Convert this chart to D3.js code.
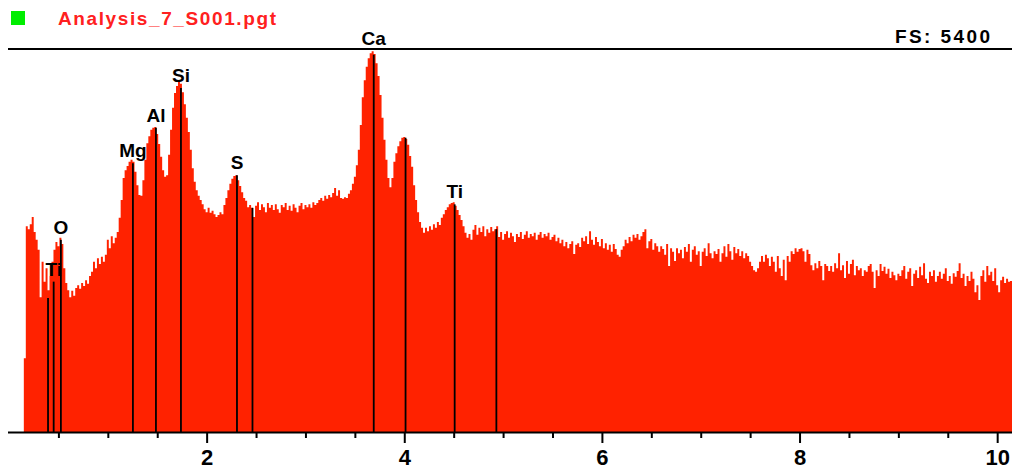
<!DOCTYPE html>
<html>
<head>
<meta charset="utf-8">
<script src="https://cdn.jsdelivr.net/npm/d3@7"></script>
<style>
  body { margin: 0; background: #fff; }
  svg { display: block; }
  text { font-family: "Liberation Sans", Arial, sans-serif; font-weight: bold; }
</style>
</head>
<body>
<div id="chart"></div>
<script>
/*global d3:true */

var spectrumName = "Analysis_7_S001.pgt";
var fullScale = 5400;

// channel calibration (keV)
var chStart = 0.16;
var chWidth = 0.02;

// counts per channel
var counts = [
  1040, 2900, 2860, 2930, 3030, 2820, 2710, 2570, 1900, 2400,
  2120, 2310, 2000, 2200, 2400, 2570, 2680, 2620, 2740, 2650,
  2310, 2100, 2000, 1900, 1990, 1920, 2030, 2070, 2020, 2100,
  2060, 2140, 2090, 2200, 2260, 2400, 2310, 2450, 2370, 2470,
  2400, 2500, 2710, 2590, 2760, 2660, 2740, 2820, 3020, 3270,
  3580, 3690, 3750, 3810, 3840, 3810, 3670, 3480, 3340, 3330,
  3550, 3840, 4070, 4170, 4260, 4290, 4300, 4200, 4060, 3880,
  3690, 3600, 3620, 3910, 4260, 4570, 4780, 4880, 4940, 4910,
  4790, 4620, 4430, 4230, 3980, 3720, 3530, 3410, 3330, 3270,
  3210, 3140, 3100, 3160, 3090, 3120, 3070, 3030, 3060, 3100,
  3070, 3200, 3300, 3410, 3500, 3570, 3610, 3620, 3550, 3470,
  3380, 3300, 3260, 3170, 3200, 3160, 3030, 3190, 3240, 3130,
  3210, 3170, 3100, 3230, 3160, 3200, 3130, 3210, 3140, 3090,
  3200, 3170, 3230, 3130, 3190, 3120, 3210, 3160, 3100, 3190,
  3230, 3140, 3200, 3170, 3210, 3160, 3240, 3200, 3230, 3270,
  3300, 3260, 3330, 3290, 3340, 3310, 3370, 3440, 3330, 3410,
  3300, 3290, 3310, 3300, 3360, 3410, 3500, 3600, 3760, 3980,
  4330, 4720, 4960, 5150, 5270, 5340, 5370, 5330, 5200, 5020,
  4750, 4430, 4120, 3840, 3580, 3450, 3580, 3810, 3930, 4030,
  4100, 4150, 4160, 4130, 4050, 3890, 3740, 3480, 3270, 3100,
  2960, 2880, 2810, 2880, 2830, 2900, 2850, 2930, 2880, 2960,
  2920, 3020, 3070, 3130, 3170, 3210, 3230, 3240, 3190, 3130,
  3060, 2990, 2900, 2810, 2740, 2790, 2710, 2850, 2920, 2780,
  2880, 2820, 2900, 2760, 2860, 2810, 2890, 2830, 2860, 2900,
  2750, 2820, 2710, 2790, 2830, 2740, 2810, 2760, 2680, 2790,
  2750, 2820, 2720, 2780, 2830, 2740, 2790, 2760, 2810, 2710,
  2780, 2820, 2740, 2790, 2760, 2810, 2710, 2750, 2780, 2690,
  2740, 2660, 2710, 2620, 2680, 2590, 2650, 2690, 2510, 2640,
  2660, 2610, 2740, 2690, 2760, 2650, 2830, 2710, 2640, 2750,
  2680, 2620, 2720, 2590, 2660, 2570, 2640, 2540, 2650, 2580,
  2500, 2470, 2570, 2620, 2710, 2660, 2750, 2690, 2780, 2740,
  2790, 2710, 2760, 2820, 2860, 2590, 2690, 2720, 2570, 2660,
  2620, 2540, 2620, 2580, 2500, 2650, 2340, 2590, 2540, 2410,
  2590, 2520, 2570, 2450, 2610, 2540, 2650, 2400, 2570, 2620,
  2500, 2550, 2340, 2540, 2590, 2480, 2660, 2520, 2450, 2550,
  2510, 2580, 2400, 2520, 2620, 2470, 2650, 2550, 2430, 2610,
  2520, 2580, 2480, 2550, 2450, 2520, 2480, 2400, 2340, 2280,
  2260, 2310, 2400, 2480, 2400, 2500, 2450, 2340, 2470, 2400,
  2260, 2480, 2310, 2200, 2430, 2140, 2480, 2400, 2550, 2510,
  2590, 2540, 2580, 2590, 2550, 2400, 2570, 2510, 2350, 2280,
  2380, 2310, 2410, 2340, 2140, 2370, 2340, 2270, 2340, 2260,
  2380, 2310, 2520, 2280, 2350, 2170, 2410, 2230, 2370, 2430,
  2210, 2340, 2280, 2310, 2200, 2280, 2260, 2340, 2370, 2260,
  2030, 2280, 2200, 2370, 2270, 2330, 2230, 2300, 2170, 2260,
  2210, 2140, 2230, 2200, 2280, 2340, 2160, 2260, 2310, 2060,
  2230, 2280, 2170, 2330, 2210, 2380, 2160, 2100, 2260, 2200,
  2280, 2120, 2200, 2260, 2160, 2230, 2310, 2130, 2200, 2090,
  2240, 2190, 2270, 2380, 2170, 2230, 2060, 2200, 2130, 2260,
  2160, 1970, 2070, 1860, 2200, 2280, 2120, 2340, 2210, 2260,
  2130, 2310, 2070, 1970, 2140, 2190, 2100, 2160, 2120, 2130
];

// element marker lines
var lineEnergies = [0.395, 0.452, 0.525, 1.254, 1.487, 1.740, 2.307, 2.464, 3.691, 4.013, 4.510, 4.932];
var lineHeights  = [1890, 2120, 2710, 3790, 4290, 4850, 3620, 3160, 5320, 4150, 3210, 2860];
var lineLabels   = ["", "Ti", "O", "Mg", "Al", "Si", "S", "", "Ca", "", "Ti", ""];

// axis ticks (keV)
var majorTicks = [2, 4, 6, 8, 10];
var minorTicks = [0.5, 1, 1.5, 2.5, 3, 3.5, 4.5, 5, 5.5, 6.5, 7, 7.5, 8.5, 9, 9.5];

var width = 1012, height = 469;
var svg = d3.select("#chart").append("svg").attr("width", width).attr("height", height);

var x = d3.scaleLinear().domain([0, 10.15]).range([9, 1012]);
var y = d3.scaleLinear().domain([0, fullScale]).range([432, 49]);

// header
svg.append("rect").attr("x", 11).attr("y", 11).attr("width", 14).attr("height", 14).attr("fill", "#00ee00");
svg.append("text").attr("x", 58).attr("y", 25)
  .attr("font-size", 19).attr("fill", "#ff2020")
  .attr("textLength", 218).attr("lengthAdjust", "spacing")
  .text(spectrumName);
svg.append("text").attr("x", 895).attr("y", 43)
  .attr("font-size", 19).attr("fill", "#000")
  .attr("textLength", 95).attr("lengthAdjust", "spacing")
  .text("FS:  " + fullScale);

// spectrum as step area
var pts = [];
counts.forEach(function(c, i){
  var e = chStart + i * chWidth;
  pts.push([e - chWidth / 2, c]);
  pts.push([e + chWidth / 2, c]);
});
var area = d3.area()
  .x(function(d){ return x(d[0]); })
  .y0(y(0))
  .y1(function(d){ return y(d[1]); });
svg.append("path").datum(pts).attr("d", area).attr("fill", "#ff2200");

// marker lines
svg.selectAll(".marker").data(lineEnergies).enter().append("line")
  .attr("class", "marker")
  .attr("x1", function(d){ return x(d); })
  .attr("x2", function(d){ return x(d); })
  .attr("y1", y(0))
  .attr("y2", function(d, i){ return y(lineHeights[i]); })
  .attr("stroke", "#000").attr("stroke-width", 1.8);

// labels sit just above the marker top; if that would cut the full scale line, go above it
svg.selectAll(".elabel").data(lineEnergies).enter().append("text")
  .attr("class", "elabel")
  .attr("x", function(d){ return x(d); })
  .attr("y", function(d, i){
    var ly = y(lineHeights[i]) - 6;
    if (ly - 14 < y(fullScale)) { ly = y(fullScale) - 4; }
    return ly;
  })
  .attr("text-anchor", "middle")
  .attr("font-size", 19).attr("fill", "#000")
  .text(function(d, i){ return lineLabels[i]; });

// full scale line
svg.append("line").attr("x1", 8).attr("x2", width).attr("y1", y(fullScale)).attr("y2", y(fullScale))
  .attr("stroke", "#000").attr("stroke-width", 2);

// x axis
var minorAxis = d3.axisBottom(x).tickValues(minorTicks).tickSize(6).tickSizeOuter(0).tickFormat("");
var majorAxis = d3.axisBottom(x).tickValues(majorTicks).tickSize(11).tickSizeOuter(0).tickFormat(d3.format("d"));

var gMinor = svg.append("g").attr("transform", "translate(0," + y(0) + ")").call(minorAxis);
var gMajor = svg.append("g").attr("transform", "translate(0," + y(0) + ")").call(majorAxis);
gMinor.select(".domain").remove();
gMajor.select(".domain").remove();
svg.selectAll(".tick line").attr("stroke", "#000").attr("stroke-width", 2);
gMajor.selectAll(".tick text")
  .attr("y", 17).attr("fill", "#000")
  .style("font-size", "22px").style("font-family", "Liberation Sans, Arial, sans-serif").style("font-weight", "bold");

svg.append("line").attr("x1", 8).attr("x2", width).attr("y1", y(0) + 0.5).attr("y2", y(0) + 0.5)
  .attr("stroke", "#000").attr("stroke-width", 2);
</script>
</body>
</html>
